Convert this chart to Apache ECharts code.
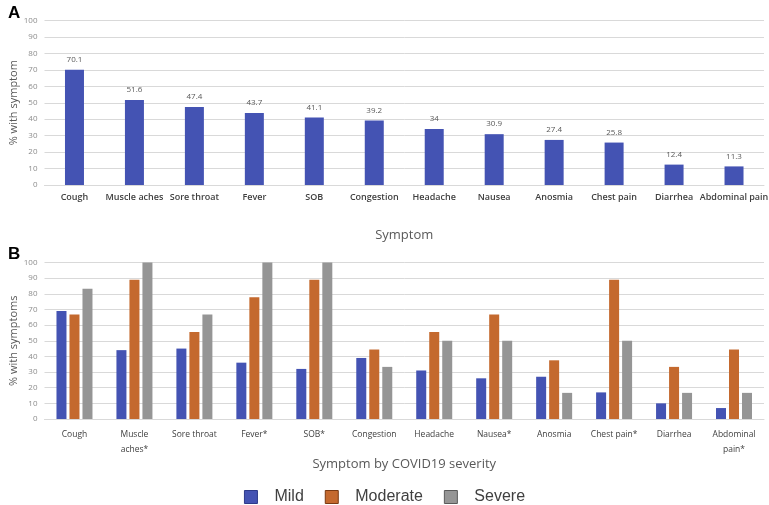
<!DOCTYPE html>
<html>
<head>
<meta charset="utf-8">
<script src="https://cdn.jsdelivr.net/npm/echarts@6/dist/echarts.min.js"></script>
<style>
  html, body { margin: 0; padding: 0; background: #fff; }
  #chart { width: 769px; height: 505px; }
</style>
</head>
<body>
<div id="chart"></div>
<script>
// panel A
var symptomsA = ["Cough", "Muscle aches", "Sore throat", "Fever", "SOB", "Congestion",
  "Headache", "Nausea", "Anosmia", "Chest pain", "Diarrhea", "Abdominal pain"];
var overall = [70.1, 51.6, 47.4, 43.7, 41.1, 39.2, 34, 30.9, 27.4, 25.8, 12.4, 11.3];

// panel B
var symptomsB = ["Cough", "Muscle\naches*", "Sore throat", "Fever*", "SOB*", "Congestion",
  "Headache", "Nausea*", "Anosmia", "Chest pain*", "Diarrhea", "Abdominal\npain*"];
var mild     = [69, 44, 45, 36, 32, 39, 31, 26, 27, 17, 10, 7];
var moderate = [66.7, 88.9, 55.6, 77.8, 88.9, 44.4, 55.6, 66.7, 37.5, 88.9, 33.3, 44.4];
var severe   = [83.3, 100, 66.7, 100, 100, 33.3, 50, 50, 16.7, 50, 16.7, 16.7];

var yTicks = { min: 0, max: 100, interval: 10 };

var font = "Open Sans";
var gridLine = "#d9d9d9";

function yAxis(gridIndex, name) {
  return {
    type: "value", gridIndex: gridIndex,
    min: yTicks.min, max: yTicks.max, interval: yTicks.interval,
    name: name, nameLocation: "middle", nameGap: 25, nameMoveOverlap: false,
    nameTextStyle: { color: "#595959", fontSize: 11, fontFamily: font },
    axisLine: { show: false }, axisTick: { show: false },
    axisLabel: { color: "#8c8c8c", fontSize: 8, fontFamily: font, margin: 7 },
    splitLine: { lineStyle: { color: gridLine, width: 1 } }
  };
}

var myChart = echarts.init(document.getElementById("chart"));

var option = {
  animation: false,
  title: [
    { text: "A", left: 3, top: 0, textStyle: { fontSize: 17, fontWeight: "bold", color: "#000", fontFamily: "Liberation Sans" } },
    { text: "B", left: 3, top: 241, textStyle: { fontSize: 17, fontWeight: "bold", color: "#000", fontFamily: "Liberation Sans" } }
  ],
  grid: [
    { left: 44.5, right: 5, top: 20.5, bottom: 320, outerBoundsMode: "none" },
    { left: 44.5, right: 5, top: 262.5, bottom: 86, outerBoundsMode: "none" }
  ],
  legend: {
    top: 484, left: "center",
    itemWidth: 13, itemHeight: 13, itemGap: 21,
    icon: "rect",
    textStyle: { fontSize: 16, color: "#404040", fontFamily: "Liberation Sans", padding: [0, 0, 0, 12] },
    data: [
      { name: "Mild", itemStyle: { borderColor: "#2d3a8a", borderWidth: 1 } },
      { name: "Moderate", itemStyle: { borderColor: "#7a3a12", borderWidth: 1 } },
      { name: "Severe", itemStyle: { borderColor: "#5a5a5a", borderWidth: 1 } }
    ]
  },
  xAxis: [
    {
      type: "category", gridIndex: 0, data: symptomsA,
      name: "Symptom", nameLocation: "middle", nameGap: 44, nameMoveOverlap: false,
      nameTextStyle: { color: "#595959", fontSize: 13, fontFamily: font },
      axisLine: { lineStyle: { color: gridLine } }, axisTick: { show: false },
      axisLabel: { color: "#404040", fontSize: 9, fontWeight: 600, fontFamily: font, margin: 8, interval: 0 }
    },
    {
      type: "category", gridIndex: 1, data: symptomsB,
      name: "Symptom by COVID19 severity", nameLocation: "middle", nameGap: 39, nameMoveOverlap: false,
      nameTextStyle: { color: "#595959", fontSize: 13, fontFamily: font },
      axisLine: { lineStyle: { color: gridLine } }, axisTick: { show: false },
      axisLabel: { color: "#404040", fontSize: 8.5, fontFamily: font, margin: 8, interval: 0, lineHeight: 15 }
    }
  ],
  yAxis: [yAxis(0, "% with symptom"), yAxis(1, "% with symptoms")],
  series: [
    {
      name: "Overall", type: "bar", xAxisIndex: 0, yAxisIndex: 0,
      data: overall, barWidth: 19,
      itemStyle: { color: "#4453b3" },
      label: { show: true, position: "top", distance: 6, color: "#595959", fontSize: 8, fontFamily: font }
    },
    {
      name: "Mild", type: "bar", xAxisIndex: 1, yAxisIndex: 1,
      data: mild, barWidth: 10, barGap: "30%",
      itemStyle: { color: "#4453b3" }
    },
    {
      name: "Moderate", type: "bar", xAxisIndex: 1, yAxisIndex: 1,
      data: moderate, barWidth: 10, barGap: "30%",
      itemStyle: { color: "#c4692e" }
    },
    {
      name: "Severe", type: "bar", xAxisIndex: 1, yAxisIndex: 1,
      data: severe, barWidth: 10, barGap: "30%",
      itemStyle: { color: "#959595" }
    }
  ]
};

myChart.setOption(option);
</script>
</body>
</html>
